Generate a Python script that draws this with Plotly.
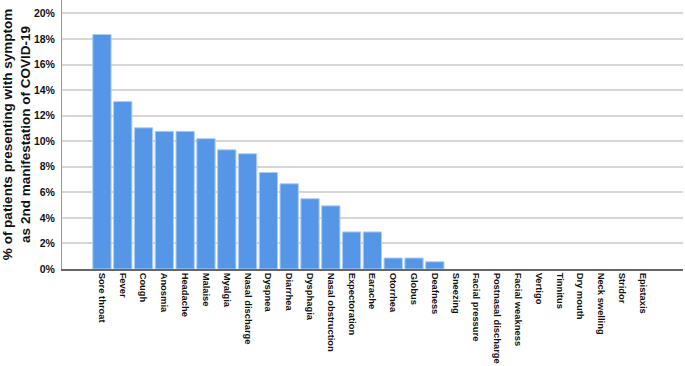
import plotly.graph_objects as go

symptoms = ["Sore throat", "Fever", "Cough", "Anosmia", "Headache", "Malaise", "Myalgia",
            "Nasal discharge", "Dyspnea", "Diarrhea", "Dysphagia", "Nasal obstruction",
            "Expectoration", "Earache", "Otorrhea", "Globus", "Deafness", "Sneezing",
            "Facial pressure", "Postnasal discharge", "Facial weakness", "Vertigo",
            "Tinnitus", "Dry mouth", "Neck swelling", "Stridor", "Epistaxis"]
percent = [18.35, 13.1, 11.05, 10.77, 10.77, 10.2, 9.33, 9.02, 7.55, 6.67, 5.5, 4.94,
           2.9, 2.9, 0.86, 0.86, 0.57, 0, 0, 0, 0, 0, 0, 0, 0, 0, 0]
y_ticks = [0, 2, 4, 6, 8, 10, 12, 14, 16, 18, 20]
y_ticklabels = [f"{v}%" for v in y_ticks]

FONT = "Liberation Sans, Arial, sans-serif"

fig = go.Figure(go.Bar(
    x=list(range(len(symptoms))), y=percent,
    width=0.88,
    marker=dict(color="#5596E6",
                line=dict(color="#b0cdf3", width=[1 if v > 0 else 0 for v in percent])),
))

fig.update_layout(
    width=685, height=366,
    margin=dict(l=62, r=2, t=0, b=97),
    paper_bgcolor="white", plot_bgcolor="white",
    showlegend=False,
    font=dict(family=FONT, color="#111"),
)
fig.update_xaxes(
    range=[-1.92, 27.93], automargin=False,
    tickmode="array", tickvals=list(range(len(symptoms))), ticktext=symptoms,
    tickangle=90, tickfont=dict(size=9.4, family=FONT, weight="bold", color="#111"),
    showline=True, linecolor="#666", linewidth=1.5, showgrid=False, ticks="",
    ticklabelstandoff=0,
)
fig.update_yaxes(
    range=[0, 21.05], automargin=False,
    tickmode="array", tickvals=y_ticks, ticktext=y_ticklabels,
    tickfont=dict(size=10.5, family=FONT, weight="bold", color="#111"),
    showline=True, linecolor="#999", linewidth=1, showgrid=True, gridcolor="#d6d6d6", gridwidth=1.5,
    zeroline=False, ticks="", ticklabelstandoff=4,
    title=dict(text="% of patients presenting with symptom<br>as 2nd manifestation of COVID-19",
               font=dict(size=13.5, family=FONT, weight="bold", color="#111"),
               standoff=6),
)

fig.write_html("out.html", config={"displayModeBar": False},
               post_script="document.body.style.margin='0';document.body.style.overflow='hidden';")
